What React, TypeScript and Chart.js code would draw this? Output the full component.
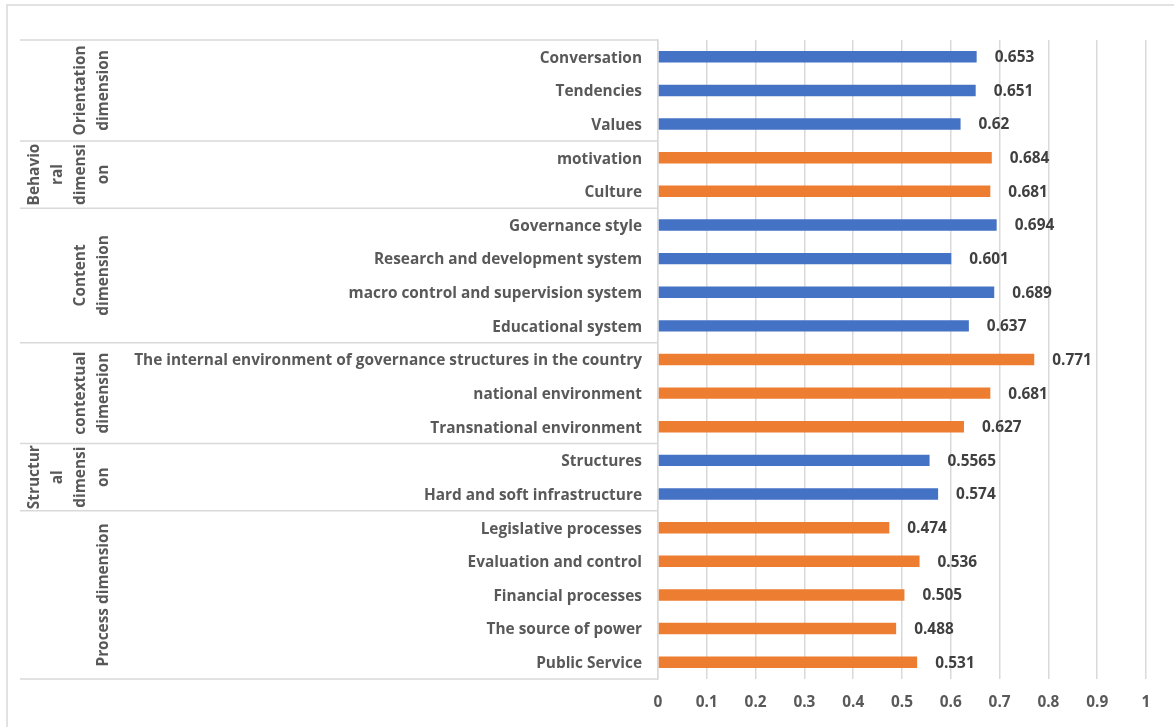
import React, { useEffect, useRef } from "react";
import { Chart, registerables } from "chart.js";

Chart.register(...registerables);

const categories = [
  "Conversation",
  "Tendencies",
  "Values",
  "motivation",
  "Culture",
  "Governance style",
  "Research and development system",
  "macro control and supervision system",
  "Educational system",
  "The internal environment of governance structures in the country",
  "national environment",
  "Transnational environment",
  "Structures",
  "Hard and soft infrastructure",
  "Legislative processes",
  "Evaluation and control",
  "Financial processes",
  "The source of power",
  "Public Service",
];

const values = [
  0.653, 0.651, 0.62, 0.684, 0.681, 0.694, 0.601, 0.689, 0.637, 0.771, 0.681,
  0.627, 0.5565, 0.574, 0.474, 0.536, 0.505, 0.488, 0.531,
];

const groupLines = [
  ["Orientation", "dimension"],
  ["Behavio", "ral", "dimensi", "on"],
  ["Content", "dimension"],
  ["contextual", "dimension"],
  ["Structur", "al", "dimensi", "on"],
  ["Process dimension"],
];
const groupSizes = [3, 2, 4, 3, 2, 5];
const groupColors = ["#4472C4", "#ED7D31", "#4472C4", "#ED7D31", "#4472C4", "#ED7D31"];

const xMin = 0;
const xMax = 1;
const xStep = 0.1;

const FONT = "'Open Sans', sans-serif";
const FS = 15.4;
const AXIS_COLOR = "#595959";
const GRID_COLOR = "#D9D9D9";

const barColors: string[] = [];
groupSizes.forEach((n, g) => {
  for (let i = 0; i < n; i++) barColors.push(groupColors[g]);
});

const decorPlugin = {
  id: "decor",
  beforeDraw(chart: any) {
    const ctx = chart.ctx;
    ctx.save();
    ctx.fillStyle = "#ffffff";
    ctx.fillRect(0, 0, chart.width, chart.height);
    ctx.strokeStyle = GRID_COLOR;
    ctx.lineWidth = 1.5;
    ctx.beginPath();
    ctx.moveTo(7, chart.height);
    ctx.lineTo(7, 5);
    ctx.lineTo(chart.width, 5);
    ctx.stroke();
    ctx.restore();
  },
  afterDraw(chart: any) {
    const ctx = chart.ctx;
    const y = chart.scales.y;
    const area = chart.chartArea;
    ctx.save();
    ctx.strokeStyle = GRID_COLOR;
    ctx.lineWidth = 1.5;
    let start = 0;
    const bounds: number[] = [area.top];
    groupSizes.forEach((n) => {
      const end = start + n;
      let b: number;
      if (end >= categories.length) b = area.bottom;
      else b = (y.getPixelForValue(end - 1) + y.getPixelForValue(end)) / 2;
      bounds.push(b);
      start = end;
    });
    bounds.forEach((b) => {
      ctx.beginPath();
      ctx.moveTo(20, b);
      ctx.lineTo(area.left, b);
      ctx.stroke();
    });
    ctx.fillStyle = AXIS_COLOR;
    ctx.font = `bold ${FS}px ${FONT}`;
    ctx.textAlign = "center";
    ctx.textBaseline = "middle";
    groupLines.forEach((lines, g) => {
      const cy = (bounds[g] + bounds[g + 1]) / 2;
      const n = lines.length;
      lines.forEach((line, i) => {
        const cx = 104 - (n - 1 - i) * 23;
        ctx.save();
        ctx.translate(cx, cy);
        ctx.rotate(-Math.PI / 2);
        ctx.fillText(line, 0, 0);
        ctx.restore();
      });
    });
    ctx.restore();
  },
  afterDatasetsDraw(chart: any) {
    const ctx = chart.ctx;
    const meta = chart.getDatasetMeta(0);
    ctx.save();
    ctx.fillStyle = "#404040";
    ctx.font = `bold ${FS}px ${FONT}`;
    ctx.textAlign = "left";
    ctx.textBaseline = "middle";
    meta.data.forEach((el: any, i: number) => {
      ctx.fillText(String(values[i]), el.x + 18, el.y + 1);
    });
    ctx.restore();
  },
};

export default function App() {
  const ref = useRef<HTMLCanvasElement>(null);
  useEffect(() => {
    if (!ref.current) return;
    const chart = new Chart(ref.current, {
      type: "bar",
      data: {
        labels: categories,
        datasets: [
          {
            data: values,
            backgroundColor: barColors,
            borderWidth: 0,
            barPercentage: 0.34,
            categoryPercentage: 1,
          },
        ],
      },
      options: {
        indexAxis: "y",
        animation: false,
        responsive: false,
        devicePixelRatio: 1,
        layout: { padding: { top: 40, right: 28, left: 0, bottom: 0 } },
        plugins: {
          legend: { display: false },
          tooltip: { enabled: false },
        },
        scales: {
          x: {
            min: xMin,
            max: xMax,
            grid: { color: GRID_COLOR, lineWidth: 1.5, drawTicks: false },
            border: { display: false },
            ticks: {
              stepSize: xStep,
              padding: 14,
              color: AXIS_COLOR,
              font: { family: FONT, size: FS, weight: "bold" },
              callback: (v: any) => String(Math.round(Number(v) * 10) / 10),
            },
            afterFit: (s: any) => {
              s.height = 48;
            },
          },
          y: {
            grid: { display: false, drawTicks: false },
            border: { display: true, color: GRID_COLOR, width: 1.5 },
            ticks: {
              padding: 16,
              labelOffset: 1.5,
              color: AXIS_COLOR,
              autoSkip: false,
              font: { family: FONT, size: FS, weight: "bold" },
            },
            afterFit: (s: any) => {
              s.width = 658;
            },
          },
        },
      },
      plugins: [decorPlugin],
    } as any);
    return () => chart.destroy();
  }, []);
  return (
    <div style={{ position: "absolute", left: 0, top: 0, width: 1174, height: 727, background: "#fff" }}>
      <canvas ref={ref} width={1174} height={727} style={{ display: "block" }} />
    </div>
  );
}
